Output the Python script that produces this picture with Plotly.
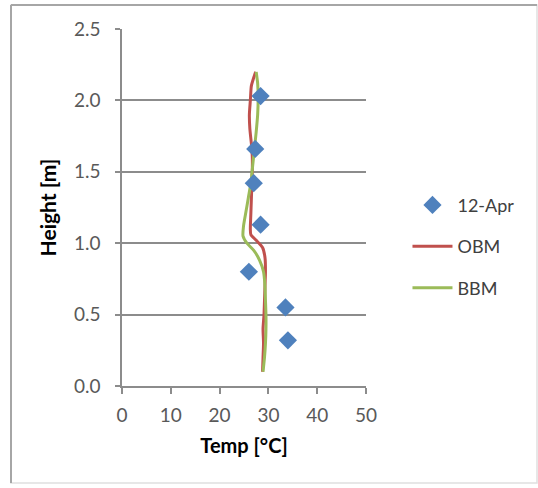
import plotly.graph_objects as go

# Measured air temperature profile (12 April)
obs_temp = [28.4, 27.3, 27.0, 28.4, 26.0, 33.5, 34.0]
obs_height = [2.03, 1.66, 1.42, 1.13, 0.80, 0.55, 0.32]

# OBM model profile
obm_temp = [28.8, 28.9, 29.0, 28.9, 29.1, 29.2, 29.3, 29.4, 29.3, 28.8, 27.5, 26.4,
            26.3, 26.4, 26.5, 26.6, 26.7, 26.7, 26.5, 26.2, 26.1, 26.3, 26.5, 27.0, 27.4]
obm_height = [0.10, 0.20, 0.30, 0.40, 0.50, 0.60, 0.70, 0.80, 0.90, 0.97, 1.02, 1.06,
              1.10, 1.20, 1.30, 1.40, 1.50, 1.60, 1.70, 1.80, 1.90, 2.00, 2.10, 2.16, 2.20]

# BBM model profile
bbm_temp = [28.9, 29.2, 29.4, 29.5, 29.5, 29.4, 29.3, 29.0, 28.2, 27.0, 25.6, 24.8,
            24.9, 25.4, 25.9, 26.4, 26.8, 27.1, 27.5, 27.8, 27.9, 27.8, 27.5]
bbm_height = [0.10, 0.20, 0.30, 0.40, 0.50, 0.60, 0.70, 0.80, 0.88, 0.95, 1.00, 1.05,
              1.12, 1.22, 1.32, 1.42, 1.55, 1.65, 1.78, 1.90, 2.02, 2.12, 2.20]

x_ticks = [0, 10, 20, 30, 40, 50]
y_ticks = [0.0, 0.5, 1.0, 1.5, 2.0, 2.5]

FONT = "Lato"

fig = go.Figure()
fig.add_trace(go.Scatter(
    x=obm_temp, y=obm_height, mode="lines", name="OBM",
    legendgroup="obm", legendrank=2,
    line=dict(color="#c0504d", width=3, shape="spline", smoothing=0.6),
))
fig.add_trace(go.Scatter(
    x=bbm_temp, y=bbm_height, mode="lines", name="BBM",
    legendgroup="bbm", legendrank=3,
    line=dict(color="#9bbb59", width=3, shape="spline", smoothing=0.6),
))
fig.add_trace(go.Scatter(
    x=obs_temp, y=obs_height, mode="markers", name="12-Apr",
    legendgroup="obs", legendrank=1,
    marker=dict(symbol="diamond", size=14, color="#4f81bd"),
))

fig.update_layout(
    width=538, height=488,
    margin=dict(l=122, r=172, t=29, b=102),
    paper_bgcolor="white", plot_bgcolor="white",
    font=dict(family=FONT, size=19, color="#595959"),
    legend=dict(
        x=1.17, y=0.39, xanchor="left", yanchor="middle",
        tracegroupgap=15,
        font=dict(family=FONT, size=18, color="#404040"),
        itemwidth=40,
    ),
    xaxis=dict(
        range=[0, 50], tickvals=x_ticks, ticktext=[str(v) for v in x_ticks],
        showgrid=False, zeroline=False,
        showline=True, linecolor="#8c8c8c", linewidth=1.5,
        ticks="outside", ticklen=6, tickcolor="#8c8c8c", tickwidth=1.5,
        ticklabelstandoff=5,
        title=dict(text="<b>Temp [°C]</b>", font=dict(family=FONT, size=20, color="#000000"), standoff=14),
    ),
    yaxis=dict(
        range=[0, 2.5], tickvals=y_ticks, ticktext=[f"{v:.1f}" for v in y_ticks],
        showgrid=True, gridcolor="#8c8c8c", gridwidth=1.5,
        zeroline=False,
        showline=True, linecolor="#8c8c8c", linewidth=1.5,
        ticks="outside", ticklen=5, tickcolor="#8c8c8c", tickwidth=1.5,
        ticklabelstandoff=11,
        title=dict(text="<b>Height [m]</b>", font=dict(family=FONT, size=21, color="#000000"), standoff=12),
    ),
    shapes=[
        dict(type="rect", xref="paper", yref="paper",
             x0=-111 / 244, x1=415 / 244, y0=-97 / 357, y1=1 + 24 / 357,
             line=dict(color="#e0e0e0", width=1.5), layer="below"),
        dict(type="line", xref="paper", yref="paper",
             x0=-111 / 244, x1=-111 / 244, y0=-97 / 357, y1=1 + 24 / 357,
             line=dict(color="#a6a6a6", width=2)),
        dict(type="line", xref="paper", yref="paper",
             x0=-111 / 244, x1=415 / 244, y0=1 + 24 / 357, y1=1 + 24 / 357,
             line=dict(color="#a6a6a6", width=2)),
    ],
)

fig.write_html("out.html")
